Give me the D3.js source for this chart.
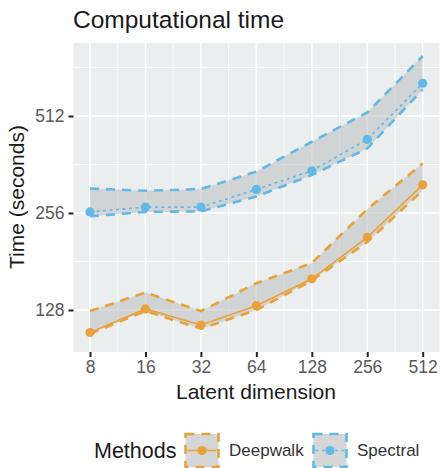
<!DOCTYPE html>
<html><head><meta charset="utf-8">
<script src="https://cdn.jsdelivr.net/npm/d3@7"></script>
<style>
html,body{margin:0;padding:0;background:#fff;}
text{font-family:"Liberation Sans",Arial,Helvetica,sans-serif;}
</style></head>
<body><svg id="c" width="440" height="468"></svg>
<script>
const dims = [8, 16, 32, 64, 128, 256, 512];
const deepwalkMean  = [109, 129, 115, 132, 160, 215, 313];
const deepwalkUpper = [127, 145, 127, 155, 179, 263, 365];
const deepwalkLower = [108, 127, 112, 128, 158, 208, 301];
const spectralMean  = [258, 267, 267, 303, 346, 433, 647];
const spectralUpper = [305, 300, 304, 344, 426, 525, 786];
const spectralLower = [250, 258, 259, 288, 336, 406, 619];
const xTicks = [8, 16, 32, 64, 128, 256, 512];
const yTicks = [128, 256, 512];
const methods = ["Deepwalk", "Spectral"];

const svg = d3.select("#c");
const P = {l: 73.5, r: 439.5, t: 43, b: 352};
const x = d3.scaleLog().base(2).domain([8, 512]).range([90, 422.7]);
const y = d3.scaleLog().base(2).domain([128, 512]).range([310, 116]);

// panel
svg.append("rect").attr("x", P.l).attr("y", P.t).attr("width", P.r - P.l).attr("height", P.b - P.t).attr("fill", "#EBEEEF");
svg.append("clipPath").attr("id", "pc").append("rect")
  .attr("x", P.l).attr("y", P.t).attr("width", P.r - P.l).attr("height", P.b - P.t);
const g = svg.append("g").attr("clip-path", "url(#pc)");

// minor grid
const xMinor = xTicks.slice(1).map((d, i) => Math.sqrt(d * xTicks[i]));
const yBase = [64, 128, 256, 512, 1024];
const yMinor = yBase.slice(1).map((d, i) => Math.sqrt(d * yBase[i]));
g.selectAll(".xm").data(xMinor).enter().append("line")
  .attr("x1", d => x(d)).attr("x2", d => x(d)).attr("y1", P.t).attr("y2", P.b)
  .attr("stroke", "#fff").attr("stroke-width", 0.8);
g.selectAll(".ym").data(yMinor).enter().append("line")
  .attr("y1", d => y(d)).attr("y2", d => y(d)).attr("x1", P.l).attr("x2", P.r)
  .attr("stroke", "#fff").attr("stroke-width", 0.8);
// major grid
g.selectAll(".xg").data(xTicks).enter().append("line")
  .attr("x1", d => x(d)).attr("x2", d => x(d)).attr("y1", P.t).attr("y2", P.b)
  .attr("stroke", "#fff").attr("stroke-width", 1.6);
g.selectAll(".yg").data(yTicks).enter().append("line")
  .attr("y1", d => y(d)).attr("y2", d => y(d)).attr("x1", P.l).attr("x2", P.r)
  .attr("stroke", "#fff").attr("stroke-width", 1.6);

const series = [
  {name: "Deepwalk", color: "#E9A23B", mean: deepwalkMean, up: deepwalkUpper, lo: deepwalkLower, dash: null},
  {name: "Spectral", color: "#62B8E6", mean: spectralMean, up: spectralUpper, lo: spectralLower, dash: "3,3.5"}
];
const line = d3.line().x(d => x(d[0])).y(d => y(d[1]));
const area = d3.area().x(d => x(d[0])).y0(d => y(d[1])).y1(d => y(d[2]));

series.forEach(s => {
  const pts = dims.map((d, i) => [d, s.lo[i], s.up[i]]);
  g.append("path").attr("d", area(pts)).attr("fill", "#B8BABA").attr("fill-opacity", 0.5);
  [s.up, s.lo].forEach(b => {
    g.append("path").attr("d", line(dims.map((d, i) => [d, b[i]])))
      .attr("fill", "none").attr("stroke", s.color).attr("stroke-width", 2.6)
      .attr("stroke-dasharray", "9,7");
  });
});
series.forEach(s => {
  const m = dims.map((d, i) => [d, s.mean[i]]);
  g.append("path").attr("d", line(m)).attr("fill", "none").attr("stroke", s.color)
    .attr("stroke-width", 1.6).attr("stroke-dasharray", s.dash);
  g.selectAll(null).data(m).enter().append("circle")
    .attr("cx", d => x(d[0])).attr("cy", d => y(d[1])).attr("r", 4.6).attr("fill", s.color);
});

// axes
const xAxis = svg.append("g").attr("transform", `translate(0,${P.b})`)
  .call(d3.axisBottom(x).tickValues(xTicks).tickFormat(d3.format("d")).tickSize(5).tickPadding(4));
const yAxis = svg.append("g").attr("transform", `translate(${P.l},0)`)
  .call(d3.axisLeft(y).tickValues(yTicks).tickFormat(d3.format("d")).tickSize(5).tickPadding(4));
[xAxis, yAxis].forEach(a => {
  a.select(".domain").remove();
  a.selectAll(".tick line").attr("stroke", "#222").attr("stroke-width", 2);
  a.selectAll(".tick text").attr("fill", "#5a5a5a").attr("font-size", 17.5)
    .attr("font-family", "Liberation Sans,Arial,sans-serif");
});

// titles
svg.append("text").attr("x", 73).attr("y", 28).text("Computational time")
  .attr("font-size", 24.5).attr("fill", "#1a1a1a");
svg.append("text").attr("x", 256).attr("y", 399).attr("text-anchor", "middle").text("Latent dimension")
  .attr("font-size", 21).attr("fill", "#1a1a1a");
svg.append("text").attr("transform", "translate(24,197) rotate(-90)").attr("text-anchor", "middle")
  .text("Time (seconds)").attr("font-size", 21).attr("fill", "#1a1a1a");

// legend
svg.append("text").attr("x", 94).attr("y", 458).text("Methods").attr("font-size", 21.5).attr("fill", "#1a1a1a");
const keyX = [185.5, 313.5], labX = [229, 357];
series.forEach((s, i) => {
  const kg = svg.append("g").attr("transform", `translate(${keyX[i]},434)`);
  kg.append("rect").attr("x", 0).attr("y", 0).attr("width", 33).attr("height", 33)
    .attr("fill", "#D5D7D6").attr("stroke", s.color).attr("stroke-width", 2.6).attr("stroke-dasharray", "9,7");
  kg.append("line").attr("x1", 2).attr("x2", 31).attr("y1", 16.5).attr("y2", 16.5)
    .attr("stroke", s.color).attr("stroke-width", 1.6).attr("stroke-dasharray", s.dash);
  kg.append("circle").attr("cx", 16.5).attr("cy", 16.5).attr("r", 4.6).attr("fill", s.color);
  svg.append("text").attr("x", labX[i]).attr("y", 456).text(methods[i]).attr("font-size", 17).attr("fill", "#333");
});
</script></body></html>
